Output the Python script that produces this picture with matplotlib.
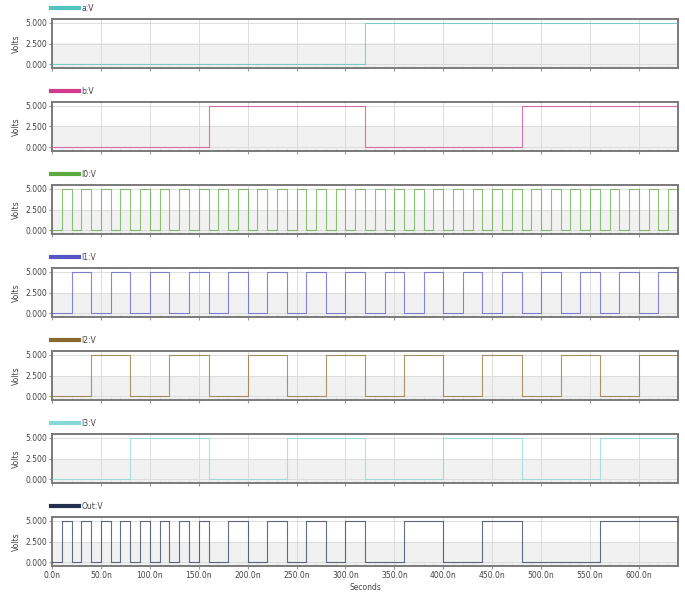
"""Stacked transient waveforms of a 4:1 mux (select a, b; inputs I0..I3; Out)."""

import matplotlib

matplotlib.use("Agg")
import matplotlib.pyplot as plt
from matplotlib.lines import Line2D

# signal names as shown in the legends
names = ["a:V", "b:V", "I0:V", "I1:V", "I2:V", "I3:V", "Out:V"]
colors = ["#4fc4bd", "#d23a8e", "#5aaa3e", "#5555c8", "#8a6a2c", "#86d8d6", "#23304d"]

# toggle times (ns); every signal starts low (0 V)
a_edges = [320]
b_edges = [160, 320, 480]
i0_edges = [10, 20, 30, 40, 50, 60, 70, 80, 90, 100, 110, 120, 130, 140, 150,
            160, 170, 180, 190, 200, 210, 220, 230, 240, 250, 260, 270, 280,
            290, 300, 310, 320, 330, 340, 350, 360, 370, 380, 390, 400, 410,
            420, 430, 440, 450, 460, 470, 480, 490, 500, 510, 520, 530, 540,
            550, 560, 570, 580, 590, 600, 610, 620, 630]
i1_edges = [20, 40, 60, 80, 100, 120, 140, 160, 180, 200, 220, 240, 260, 280,
            300, 320, 340, 360, 380, 400, 420, 440, 460, 480, 500, 520, 540,
            560, 580, 600, 620]
i2_edges = [40, 80, 120, 160, 200, 240, 280, 320, 360, 400, 440, 480, 520,
            560, 600]
i3_edges = [80, 160, 240, 320, 400, 480, 560]
out_edges = [10, 20, 30, 40, 50, 60, 70, 80, 90, 100, 110, 120, 130, 140, 150,
             160, 180, 200, 220, 240, 260, 280, 300, 320, 360, 400, 440, 480,
             560]
all_edges = [a_edges, b_edges, i0_edges, i1_edges, i2_edges, i3_edges, out_edges]

T_END = 640
V_LOW, V_HIGH = 0.0, 5.0
x_ticks = [0, 50, 100, 150, 200, 250, 300, 350, 400, 450, 500, 550, 600]
x_labels = ["0.0n", "50.0n", "100.0n", "150.0n", "200.0n", "250.0n", "300.0n",
            "350.0n", "400.0n", "450.0n", "500.0n", "550.0n", "600.0n"]
y_ticks = [0.0, 2.5, 5.0]
y_labels = ["0.000", "2.500", "5.000"]


def waveform(edges):
    t = [0] + list(edges) + [T_END]
    v = [V_LOW]
    for _ in edges:
        v.append(V_HIGH if v[-1] == V_LOW else V_LOW)
    v.append(v[-1])
    return t, v


W, H = 685, 608
fig = plt.figure(figsize=(W / 100, H / 100), dpi=100)
left, right = 52, 678
top0, pitch, ph = 19, 83, 49
fs = 5.5

for i, (name, col, edges) in enumerate(zip(names, colors, all_edges)):
    top = top0 + pitch * i
    ax = fig.add_axes([left / W, 1 - (top + ph) / H, (right - left) / W, ph / H])
    ax.axhspan(-1, 2.5, color="#f1f1f1", zorder=0, lw=0)
    t, v = waveform(edges)
    ax.plot(t, v, drawstyle="steps-post", color=col, lw=0.8, alpha=0.7, zorder=3)
    ax.set_xlim(0, T_END)
    ax.set_ylim(-0.45, 5.45)
    ax.set_xticks(x_ticks)
    ax.set_xticks(range(0, T_END, 10), minor=True)
    ax.set_yticks(y_ticks)
    ax.set_yticklabels(y_labels, fontsize=fs, color="#444444")
    ax.grid(True, which="major", color="#d8d8d8", lw=0.6, zorder=1)
    ax.tick_params(axis="both", which="major", length=2, color="#999999", pad=1.5)
    ax.tick_params(axis="x", which="minor", length=1.5, direction="in", color="#bbbbbb")
    ax.set_ylabel("Volts", fontsize=fs, color="#444444", labelpad=3)
    for sp in ax.spines.values():
        sp.set_color("#7a7a7a")
        sp.set_linewidth(1.4)
    if i == len(names) - 1:
        ax.set_xticklabels(x_labels, fontsize=fs, color="#444444")
        ax.set_xlabel("Seconds", fontsize=fs, color="#444444", labelpad=2)
    else:
        ax.set_xticklabels([])
    handle = Line2D([], [], color=col, lw=3)
    ax.legend([handle], [name], loc="lower left", bbox_to_anchor=(-0.004, 1.09),
              frameon=False, fontsize=fs, handlelength=3.6, handletextpad=0.4,
              borderaxespad=0, borderpad=0.2, labelcolor="#444444")

fig.savefig("out.png", dpi=100)
